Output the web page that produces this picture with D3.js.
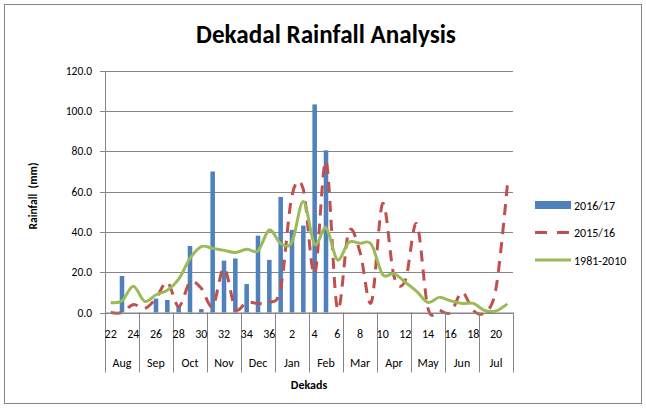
<!DOCTYPE html>
<html>
<head>
<meta charset="utf-8">
<script src="https://cdn.jsdelivr.net/npm/d3@7"></script>
<style>
  body { margin: 0; background: #fff; }
  svg text { font-family: Carlito, Lato, "Liberation Sans", sans-serif; fill: #000; }
  .axis path, .axis line { stroke: #868686; shape-rendering: crispEdges; }
  .grid line { stroke: #868686; shape-rendering: crispEdges; }
  .grid path { display: none; }
</style>
</head>
<body>
<svg class="rainfall" width="646" height="408"></svg>
<script>
// dekads from Aug (22) through Jul (21)
var dekads = ["22","23","24","25","26","27","28","29","30","31","32","33","34","35","36",
              "1","2","3","4","5","6","7","8","9","10","11","12","13","14","15","16","17","18","19","20","21"];
var months = ["Aug","Sep","Oct","Nov","Dec","Jan","Feb","Mar","Apr","May","Jun","Jul"];
var yTicks = [0, 20, 40, 60, 80, 100, 120];

var rain1617 = [0, 18.1, 0, 0, 6.9, 6.2, 3.2, 33.0, 1.7, 69.9, 25.7, 26.8, 14.1, 38.1, 26.1,
                57.3, 41.0, 43.1, 103.2, 80.4,
                null, null, null, null, null, null, null, null, null, null, null, null, null, null, null, null];
var rain1516 = [0, 0, 4, 2, 7, 15, 3, 15, 12, 3, 22, 2, 5, 4.5, 5,
                12, 58, 61, 19, 75, 2, 40, 30, 5, 54, 18, 16, 44, 2, 1, 0, 10, 1, 0, 12, 63];
var rainLtm = [5.0, 5.8, 13.0, 5.5, 8.8, 11.0, 16.5, 26.8, 32.7, 31.8, 30.8, 29.8, 31.4, 30.6, 40.9,
               34.2, 35.0, 55.0, 33.8, 42.0, 26.2, 34.7, 34.3, 33.8, 18.8, 19.3, 15.0, 10.5, 5.0, 7.5,
               5.8, 4.5, 4.5, 1.0, 0.8, 4.3];

var margin = {top: 70.5, bottom: 95.5, left: 105, right: 133},
    width = 646 - margin.left - margin.right,
    height = 408 - margin.top - margin.bottom;

var svg = d3.select(".rainfall");

// outer chart border
svg.append("rect")
    .attr("x", 4.5).attr("y", 4.5)
    .attr("width", 637).attr("height", 399)
    .attr("fill", "none")
    .attr("stroke", "#868686");

var title = svg.append("text")
    .attr("x", 326)
    .attr("y", 43)
    .attr("text-anchor", "middle")
    .style("font-weight", "bold")
    .style("font-size", "21px")
    .text("Dekadal Rainfall Analysis");
// fit title to the width seen in the reference
var tw = title.node().getComputedTextLength();
title.style("font-size", (21 * 260 / tw) + "px");

var chart = svg.append("g")
    .attr("transform", "translate(" + margin.left + "," + margin.top + ")");

var x = d3.scaleBand().domain(dekads).range([0, width]);
var y = d3.scaleLinear().domain([0, 120]).range([height, 0]);
var bw = x.bandwidth();

// gridlines
chart.append("g")
    .attr("class", "grid")
    .call(d3.axisLeft(y).tickValues(yTicks).tickSize(-width).tickFormat(""));

// y axis
var yAxis = chart.append("g")
    .attr("class", "axis")
    .call(d3.axisLeft(y).tickValues(yTicks).tickSize(5).tickPadding(8).tickFormat(d3.format(".1f")));
yAxis.selectAll("text").style("font-size", "11.5px").style("fill", "#000");

// bars
chart.selectAll(".bar")
    .data(rain1617.map(function(v, i) { return {dekad: dekads[i], value: v}; })
                  .filter(function(d) { return d.value != null && d.value > 0; }))
  .enter().append("rect")
    .attr("class", "bar")
    .attr("x", function(d) { return x(d.dekad) + bw * 0.3; })
    .attr("width", bw * 0.4)
    .attr("y", function(d) { return y(d.value); })
    .attr("height", function(d) { return height - y(d.value); })
    .attr("fill", "#4F81BD");

var line = d3.line()
    .x(function(d, i) { return x(dekads[i]) + bw / 2; })
    .y(function(d) { return y(d); })
    .curve(d3.curveCardinal.tension(0));

chart.append("path")
    .datum(rain1516)
    .attr("d", line)
    .attr("fill", "none")
    .attr("stroke", "#C0504D")
    .attr("stroke-width", 3)
    .attr("stroke-dasharray", "11,8");

chart.append("path")
    .datum(rainLtm)
    .attr("d", line)
    .attr("fill", "none")
    .attr("stroke", "#9BBB59")
    .attr("stroke-width", 3);

// x axis line
chart.append("line")
    .attr("x1", 0).attr("x2", width)
    .attr("y1", height + 0.5).attr("y2", height + 0.5)
    .attr("stroke", "#868686");

// month separators
var bounds = months.map(function(m, k) { return x(dekads[k * 3]); }).concat([width]);
chart.selectAll(".sep")
    .data(bounds)
  .enter().append("line")
    .attr("x1", function(d) { return Math.round(d) + 0.5; })
    .attr("x2", function(d) { return Math.round(d) + 0.5; })
    .attr("y1", height)
    .attr("y2", height + 60)
    .attr("stroke", "#868686");

// dekad labels (every other)
chart.selectAll(".dk")
    .data(dekads.filter(function(d, i) { return i % 2 === 0; }))
  .enter().append("text")
    .attr("x", function(d) { return x(d) + bw / 2; })
    .attr("y", height + 25)
    .attr("text-anchor", "middle")
    .style("font-size", "12px")
    .text(function(d) { return d; });

// month labels
chart.selectAll(".mo")
    .data(months)
  .enter().append("text")
    .attr("x", function(d, k) { return x(dekads[k * 3]) + bw * 1.5; })
    .attr("y", height + 54)
    .attr("text-anchor", "middle")
    .style("font-size", "12px")
    .text(function(d) { return d; });

chart.append("text")
    .attr("x", width / 2)
    .attr("y", height + 76)
    .attr("text-anchor", "middle")
    .style("font-weight", "bold")
    .style("font-size", "12px")
    .text("Dekads");

svg.append("text")
    .attr("transform", "translate(37,196) rotate(-90)")
    .attr("text-anchor", "middle")
    .style("font-weight", "bold")
    .style("font-size", "11.5px")
    .style("white-space", "pre")
    .text("Rainfall  (mm)");

// legend
var legend = svg.append("g").attr("transform", "translate(535,0)");
legend.append("rect")
    .attr("x", 0).attr("y", 201)
    .attr("width", 36).attr("height", 8)
    .attr("fill", "#4F81BD");
legend.append("line")
    .attr("x1", 0).attr("x2", 36).attr("y1", 232.5).attr("y2", 232.5)
    .attr("stroke", "#C0504D").attr("stroke-width", 3)
    .attr("stroke-dasharray", "12,10");
legend.append("line")
    .attr("x1", 0).attr("x2", 36).attr("y1", 260).attr("y2", 260)
    .attr("stroke", "#9BBB59").attr("stroke-width", 3);
legend.selectAll(".lt")
    .data(["2016/17", "2015/16", "1981-2010"])
  .enter().append("text")
    .attr("x", 39)
    .attr("y", function(d, i) { return 209.5 + i * 27.5; })
    .style("font-size", "12px")
    .text(function(d) { return d; });
</script>
</body>
</html>
